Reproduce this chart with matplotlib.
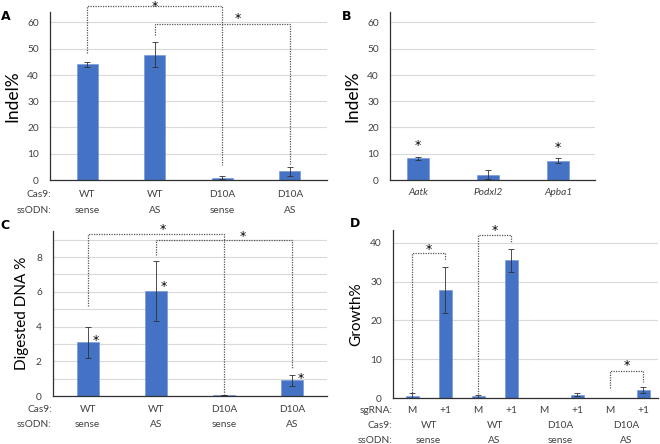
import matplotlib
matplotlib.use("Agg")
import matplotlib.pyplot as plt

plt.rcParams['font.family'] = ['Lato', 'DejaVu Sans']

# --- data ---
a_vals = [44.0, 47.7, 0.8, 3.3]
a_errs = [0.8, 4.7, 0.6, 1.8]
b_genes = ['Aatk', 'Podxl2', 'Apba1']
b_vals = [8.3, 2.0, 7.4]
b_errs = [0.6, 1.8, 1.0]
c_vals = [3.1, 6.05, 0.03, 0.9]
c_errs = [0.9, 1.75, 0.0, 0.3]
d_vals = [0.6, 27.8, 0.4, 35.5, 0.0, 0.9, 0.0, 2.0]
d_errs = [0.6, 6.0, 0.5, 3.0, 0.0, 0.5, 0.0, 0.8]

cas9 = ['WT', 'WT', 'D10A', 'D10A']
ssodn = ['sense', 'AS', 'sense', 'AS']
sgrna = ['M', '+1'] * 4

BLUE = '#4472C4'
GRID = '#d9d9d9'
TXT = '#404040'
FS = 7.3
W, H = 660, 444

fig = plt.figure(figsize=(W / 100, H / 100), dpi=100)


def px_axes(l, t, r, b):
    # axes placed by pixel box (left, top, right, bottom)
    ax = fig.add_axes([l / W, 1 - b / H, (r - l) / W, (b - t) / H])
    for s in ['top', 'right']:
        ax.spines[s].set_visible(False)
    for s in ['left', 'bottom']:
        ax.spines[s].set_color('#303030')
        ax.spines[s].set_linewidth(0.9)
    ax.tick_params(axis='y', length=0, labelsize=FS, labelcolor=TXT, pad=8)
    ax.tick_params(axis='x', length=0, labelbottom=False)
    ax.set_axisbelow(True)
    ax.grid(axis='y', color=GRID, lw=0.8)
    return ax


def bars(ax, vals, errs, width):
    x = list(range(len(vals)))
    ax.bar(x, vals, width=width, color=BLUE, edgecolor='#6f93d6', lw=0.4,
           yerr=errs, error_kw=dict(ecolor='#303030', elinewidth=0.6, capsize=2, capthick=0.6))
    return x


def star(ax, x, y, va='center'):
    ax.text(x, y, '*', ha='center', va=va, fontsize=9, family='DejaVu Sans',
            clip_on=False)


def bracket(ax, x1, y1, x2, y2, top):
    ax.plot([x1, x1, x2, x2], [y1, top, top, y2], ls=(0, (1, 1)), color='#555555',
            lw=0.9, clip_on=False)


# ---- A ----
axA = px_axes(50, 12, 327, 180)
x = bars(axA, a_vals, a_errs, 0.31)
axA.set_xlim(-0.55, 3.55)
axA.set_ylim(0, 64)
axA.set_yticks(range(0, 61, 10))
axA.set_ylabel('Indel%', fontsize=12.5, color='black', labelpad=5)
bracket(axA, 0, 48.5, 2, 5.7, 66.3)
star(axA, 1, 68.5, va='top')
bracket(axA, 1, 55.3, 3, 6.0, 59.3)
star(axA, 2.23, 61.5)
for i in x:
    axA.text(i, -5.5, cas9[i], ha='center', va='center', fontsize=FS, color=TXT)
    axA.text(i, -11.6, ssodn[i], ha='center', va='center', fontsize=FS, color=TXT)
axA.text(-0.53, -5.5, 'Cas9:', ha='right', va='center', fontsize=FS, color=TXT)
axA.text(-0.53, -11.6, 'ssODN:', ha='right', va='center', fontsize=FS, color=TXT)

# ---- B ----
axB = px_axes(390, 12, 595, 180)
x = bars(axB, b_vals, b_errs, 0.31)
axB.set_xlim(-0.4, 2.53)
axB.set_ylim(0, 64)
axB.set_yticks(range(0, 61, 10))
axB.set_ylabel('Indel%', fontsize=12.5, color='black', labelpad=5)
star(axB, 0, 13.2)
star(axB, 2, 12.5)
for i in x:
    axB.text(i, -4.6, b_genes[i], ha='center', va='center', fontsize=FS,
             color=TXT, style='italic')

# ---- C ----
axC = px_axes(53, 231, 327, 396)
x = bars(axC, c_vals, c_errs, 0.32)
axC.set_xlim(-0.51, 3.51)
axC.set_ylim(0, 9.5)
axC.set_yticks(range(0, 10))
axC.set_yticklabels([str(v) if v % 2 == 0 else '' for v in range(0, 10)])
axC.set_ylabel('Digested DNA %', fontsize=11, color='black', labelpad=5)
bracket(axC, 0, 5.2, 2, 0.1, 9.3)
star(axC, 1.1, 9.6)
bracket(axC, 1, 8.1, 3, 1.57, 9.0)
star(axC, 2.27, 9.2)
for i, dy in [(0, 3.2), (1, 6.3), (3, 1.0)]:
    star(axC, i + 0.12, dy)
for i in x:
    axC.text(i, -0.75, cas9[i], ha='center', va='center', fontsize=FS, color=TXT)
    axC.text(i, -1.65, ssodn[i], ha='center', va='center', fontsize=FS, color=TXT)
axC.text(-0.53, -0.75, 'Cas9:', ha='right', va='center', fontsize=FS, color=TXT)
axC.text(-0.53, -1.65, 'ssODN:', ha='right', va='center', fontsize=FS, color=TXT)

# ---- D ----
axD = px_axes(393, 230, 658, 398)
x = bars(axD, d_vals, d_errs, 0.4)
axD.set_xlim(-0.58, 7.45)
axD.set_ylim(0, 43.3)
axD.set_yticks(range(0, 41, 10))
axD.set_ylabel('Growth%', fontsize=11, color='black', labelpad=5)
bracket(axD, 0, 0.9, 1, 35.5, 37.3)
star(axD, 0.5, 38.3)
bracket(axD, 2, 1.1, 3, 40.2, 42.1)
star(axD, 2.5, 43.1)
bracket(axD, 6, 2.7, 7, 4.1, 7.0)
star(axD, 6.5, 8.4)
for i in x:
    axD.text(i, -3.1, sgrna[i], ha='center', va='center', fontsize=FS, color=TXT)
for g in range(4):
    axD.text(2 * g + 0.5, -7.0, cas9[g], ha='center', va='center', fontsize=FS, color=TXT)
    axD.text(2 * g + 0.5, -10.9, ssodn[g], ha='center', va='center', fontsize=FS, color=TXT)
for lab, yy in [('sgRNA:', -3.1), ('Cas9:', -7.0), ('ssODN:', -10.9)]:
    axD.text(-0.6, yy, lab, ha='right', va='center', fontsize=FS, color=TXT)

# panel letters
for lab, px, py in [('A', 6, 16), ('B', 347, 17), ('C', 5, 225), ('D', 355, 223)]:
    fig.text(px / W, 1 - py / H, lab, ha='center', va='center', fontsize=9,
             fontweight='bold', family='DejaVu Sans')

fig.savefig('out.png', dpi=100)
